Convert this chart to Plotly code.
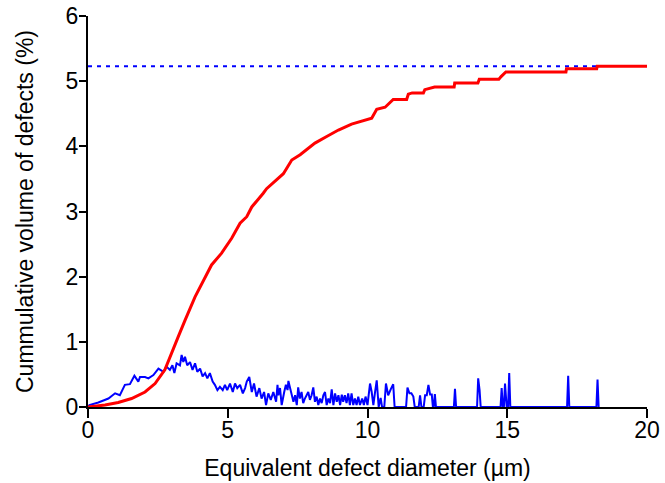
import plotly.graph_objects as go

# Red cumulative curve (Equivalent defect diameter µm, cumulative volume %)
red_x = [0, 0.61, 1.08, 1.56, 2.04, 2.40, 2.75, 3.05, 3.23, 3.47, 3.83, 4.42, 4.78, 5.14,
         5.44, 5.68, 5.86, 6.27, 6.39, 6.99, 7.29, 7.59, 8.12, 8.54, 8.96, 9.43, 9.97,
         10.15, 10.33, 10.63, 10.92, 11.16, 11.40, 11.46, 11.60, 12.00, 12.05, 12.40,
         13.10, 13.12, 13.95, 14.00, 14.70, 14.78, 14.95, 17.10, 17.12, 18.20, 18.22, 20.0]
red_y = [0, 0.03, 0.07, 0.13, 0.23, 0.36, 0.57, 0.90, 1.08, 1.33, 1.69, 2.18, 2.36, 2.59,
         2.82, 2.92, 3.07, 3.28, 3.35, 3.58, 3.79, 3.87, 4.05, 4.15, 4.25, 4.34, 4.40,
         4.43, 4.57, 4.60, 4.72, 4.72, 4.72, 4.80, 4.82, 4.82, 4.87, 4.91,
         4.91, 4.97, 4.97, 5.03, 5.03, 5.07, 5.14, 5.14, 5.19, 5.19, 5.23, 5.23]

# Blue distribution curve
blue_x = [0.0, 0.05, 0.37, 0.73, 0.97, 1.14, 1.32, 1.50, 1.66, 1.80, 1.86, 2.04, 2.16, 2.34,
          2.52, 2.70, 2.81, 2.93, 3.02, 3.09, 3.17, 3.29, 3.35, 3.41, 3.47, 3.55, 3.65,
          3.74, 3.83, 3.91, 4.01, 4.10, 4.19, 4.27, 4.36, 4.46, 4.54, 4.63, 4.72, 4.82,
          4.90, 4.98, 5.08, 5.18, 5.26, 5.34, 5.44, 5.54, 5.62, 5.68, 5.77, 5.86, 5.94,
          6.03, 6.13, 6.21, 6.30, 6.37, 6.45, 6.54, 6.63, 6.73, 6.78, 6.81, 6.87, 6.93,
          7.02, 7.08, 7.14, 7.17, 7.23, 7.29, 7.35, 7.41, 7.47, 7.52, 7.58, 7.64, 7.70,
          7.76, 7.82, 7.88, 7.94, 8.00, 8.06, 8.12, 8.18, 8.24, 8.30, 8.36, 8.42, 8.48,
          8.54, 8.60, 8.66, 8.72, 8.78, 8.84, 8.90, 8.96, 9.02, 9.08, 9.13, 9.19, 9.25,
          9.31, 9.37, 9.43, 9.49, 9.55, 9.61, 9.67, 9.73, 9.81, 9.87, 9.93, 10.00, 10.09,
          10.15, 10.21, 10.27, 10.33, 10.40, 10.47, 10.52, 10.60, 10.66, 10.74, 10.83,
          10.92, 10.97, 11.38, 11.43, 11.50, 11.57, 11.64, 11.69, 11.83, 11.88, 11.93,
          12.01, 12.06, 12.12, 12.18, 12.24, 12.30, 12.34, 12.37, 12.41, 12.45, 13.09,
          13.13, 13.17, 13.92, 13.96, 14.01, 14.05, 14.76, 14.80, 14.84, 14.88, 14.92,
          14.98, 15.03, 15.07, 15.11, 17.14, 17.18, 17.22, 18.19, 18.23, 18.27]
blue_y = [0.0, 0.03, 0.07, 0.13, 0.21, 0.18, 0.34, 0.35, 0.48, 0.39, 0.46, 0.46, 0.44, 0.49,
          0.59, 0.54, 0.62, 0.57, 0.64, 0.52, 0.67, 0.64, 0.80, 0.69, 0.77, 0.64, 0.69,
          0.57, 0.67, 0.54, 0.59, 0.47, 0.52, 0.44, 0.52, 0.39, 0.34, 0.26, 0.31, 0.26,
          0.34, 0.26, 0.36, 0.23, 0.36, 0.29, 0.34, 0.21, 0.29, 0.39, 0.46, 0.23, 0.36,
          0.16, 0.29, 0.13, 0.23, 0.03, 0.21, 0.11, 0.23, 0.08, 0.34, 0.18, 0.29, 0.03,
          0.23, 0.34, 0.26, 0.40, 0.29, 0.18, 0.08, 0.18, 0.03, 0.30, 0.13, 0.23, 0.06,
          0.13, 0.18, 0.23, 0.11, 0.18, 0.30, 0.08, 0.16, 0.03, 0.13, 0.06, 0.18, 0.23,
          0.03, 0.13, 0.06, 0.27, 0.03, 0.21, 0.08, 0.18, 0.03, 0.19, 0.08, 0.18, 0.06,
          0.21, 0.03, 0.21, 0.03, 0.13, 0.03, 0.16, 0.03, 0.13, 0.03, 0.16, 0.03, 0.36,
          0.23, 0.03, 0.23, 0.41, 0.0, 0.14, 0.0, 0.0, 0.36, 0.18, 0.27,
          0.35, 0.0, 0.0, 0.30, 0.21, 0.21, 0.16, 0.0, 0.0, 0.18, 0.0,
          0.0, 0.18, 0.18, 0.34, 0.19, 0.19, 0.0, 0.0, 0.20, 0.0, 0.0,
          0.28, 0.0, 0.0, 0.44, 0.26, 0.0, 0.0, 0.29, 0.0, 0.0, 0.36,
          0.0, 0.0, 0.52, 0.0, 0.0, 0.48, 0.0, 0.0, 0.42, 0.0]

# Horizontal dotted reference line (total volume)
total_level = 5.23
ref_x = [0, 18.2]

x_ticks = [0, 5, 10, 15, 20]
y_ticks = [0, 1, 2, 3, 4, 5, 6]

fig = go.Figure()
fig.add_trace(go.Scatter(x=ref_x, y=[total_level, total_level], mode="lines",
                         line=dict(color="#0000ff", width=2, dash="4px,5px"),
                         hoverinfo="skip"))
fig.add_trace(go.Scatter(x=blue_x, y=blue_y, mode="lines",
                         line=dict(color="#0000ff", width=2)))
fig.add_trace(go.Scatter(x=red_x, y=red_y, mode="lines",
                         line=dict(color="#ff0000", width=3)))

axis_common = dict(showline=True, linecolor="black", linewidth=2, ticks="outside",
                   tickcolor="black", tickwidth=2, showgrid=False, zeroline=False,
                   tickfont=dict(size=23, color="black"), mirror=False,
                   automargin=False)

fig.update_layout(
    width=665, height=483,
    margin=dict(l=88, r=18, t=16, b=76),
    paper_bgcolor="white", plot_bgcolor="white",
    showlegend=False,
    font=dict(family="Liberation Sans, Arial, sans-serif", color="black"),
    xaxis=dict(range=[0, 20], tickvals=x_ticks, ticklen=9, ticklabelstandoff=-8,
               title=dict(text="Equivalent defect diameter (µm)", font=dict(size=23), standoff=18),
               **axis_common),
    yaxis=dict(range=[0, 6], tickvals=y_ticks, ticklen=7, ticklabelstandoff=-4,
               title=dict(text="Cummulative volume of defects (%)", font=dict(size=23), standoff=26),
               **axis_common),
)

fig.write_html("out.html")
